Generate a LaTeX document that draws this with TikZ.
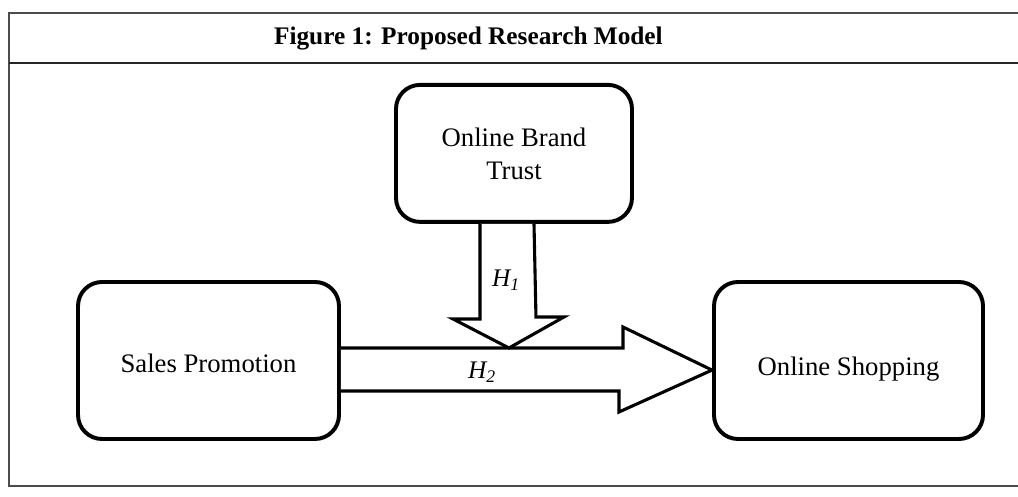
\documentclass[tikz,border=0pt]{standalone}
\usepackage{fontspec}
\setmainfont{Liberation Serif}
\usetikzlibrary{calc}
\tikzset{
  block/.style={draw, line width=2.8pt, rounded corners=0.6cm, align=center,
    font=\fontsize{19}{24}\selectfont, inner sep=0pt},
  fatarrow/.style={draw, fill=white, line width=2.2pt, line join=miter},
  hlabel/.style={font=\fontsize{18}{20}\selectfont\itshape}
}
\newcommand{\lowered}[2]{\raisebox{-#1}[\height][\depth]{#2}}
\begin{document}
\begin{tikzpicture}
\useasboundingbox (0,0) rectangle (25.45,12.425);
% frame and title row
\draw[line width=1.2pt, black!70] (25.45,12.1) -- (0.225,12.1) -- (0.225,0.275) -- (25.45,0.275);
\draw[line width=1.2pt, black!85] (0.225,10.85) -- (25.45,10.85);
\node[font=\fontsize{18}{20}\selectfont\bfseries] (title) at (11.71,11.45) {Figure 1: Proposed Research Model};
% blocks
\node[block, minimum width=5.9cm, minimum height=3.425cm] (brand) at (12.85,8.59) {\lowered{0.07cm}{\begin{tabular}{@{}c@{}}Online Brand\\Trust\end{tabular}}};
\node[block, minimum width=6.525cm, minimum height=3.925cm] (promo) at (5.2125,3.4125) {\lowered{0.08cm}{Sales Promotion}};
\node[block, minimum width=6.725cm, minimum height=3.925cm] (shop) at (21.2125,3.4125) {\lowered{0.22cm}{Online Shopping}};
\coordinate (tip) at ($(shop.west)+(0,-0.24)$);
\coordinate (meet) at ($(promo.east)+(4.2,0.3125)$);
% H2 arrow
\draw[fatarrow] ($(promo.east)+(0,0.3125)$) -- ++(7.05,0) -- ++(0,0.525) -- (tip)
  -- ++(-2.325,-1.0475) -- ++(0,0.525) -- ($(promo.east)+(0,-0.7625)$);
% H1 arrow
\draw[fatarrow] ($(brand.south)+(-0.85,0)$) -- ++(0,-2.3775) -- ++(-0.675,0) -- (meet)
  -- ++(1.375,0.775) -- ++(-0.7,0) -- ($(brand.south)+(0.5,0)$);
\node[hlabel] (h1) at (12.65,5.425) {H\textsubscript{1}};
\node[hlabel] (h2) at (12.05,3.125) {H\textsubscript{2}};
\end{tikzpicture}
\end{document}
